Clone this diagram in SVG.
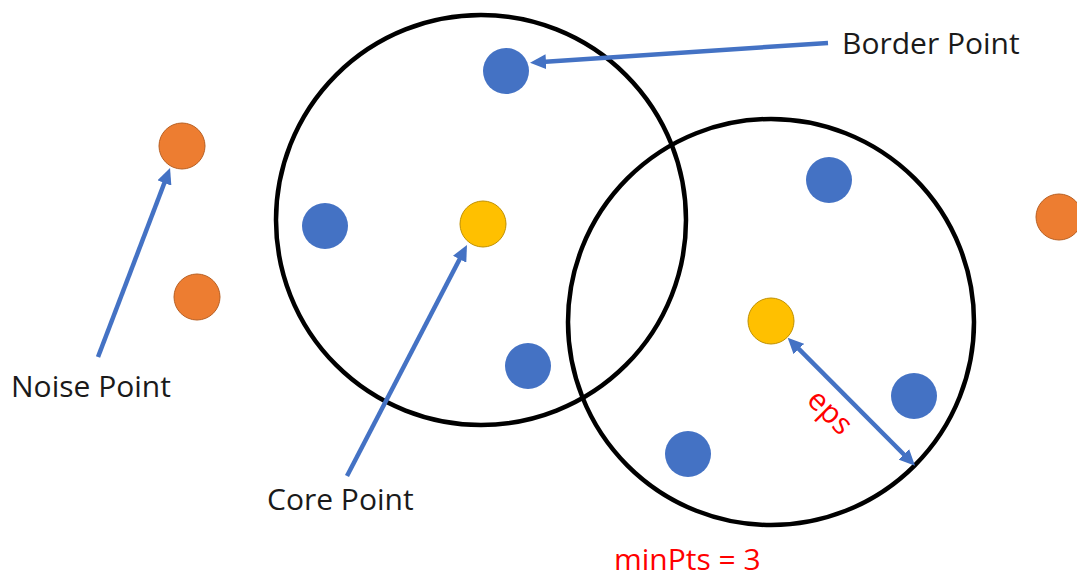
<svg xmlns="http://www.w3.org/2000/svg" width="1077" height="578" viewBox="0 0 1077 578">
  <style>
    .ring { fill: none; stroke: #000; stroke-width: 4.5; }
    .blue { fill: #4472C4; }
    .orange { fill: #ED7D31; stroke: #B85F22; stroke-width: 1; }
    .core { fill: #FFC000; stroke: #BF9000; stroke-width: 1; }
    .arrow { stroke: #4472C4; stroke-width: 4.5; fill: none; }
    .lbl { font-family: "Open Sans", "Liberation Sans", sans-serif; font-size: 30px; fill: #1a1a1a; }
    .red { font-family: "Open Sans", "Liberation Sans", sans-serif; font-size: 30px; fill: #FF0000; }
  </style>
  <defs>
    <marker id="ah" markerUnits="userSpaceOnUse" markerWidth="16" markerHeight="15" viewBox="0 0 16 15" refX="8" refY="7.5" orient="auto-start-reverse">
      <path d="M0,0 L16,7.5 L0,15 z" fill="#4472C4"/>
    </marker>
  </defs>
  <rect width="1077" height="578" fill="#fff"/>

  <g id="eps-circle-1"><circle class="ring" cx="481" cy="220" r="205"/></g>
  <g id="eps-circle-2"><circle class="ring" cx="771" cy="322" r="203"/></g>

  <g id="noise-1"><circle class="orange" cx="182" cy="146" r="23"/></g>
  <g id="noise-2"><circle class="orange" cx="197" cy="297" r="23"/></g>
  <g id="noise-3"><circle class="orange" cx="1059" cy="217" r="23"/></g>

  <g id="border-1"><circle class="blue" cx="506" cy="71" r="23"/></g>
  <g id="border-2"><circle class="blue" cx="325" cy="226" r="23"/></g>
  <g id="border-3"><circle class="blue" cx="528" cy="366" r="23"/></g>
  <g id="border-4"><circle class="blue" cx="829" cy="180" r="23"/></g>
  <g id="border-5"><circle class="blue" cx="914" cy="396" r="23"/></g>
  <g id="border-6"><circle class="blue" cx="688" cy="454" r="23"/></g>

  <g id="core-1"><circle class="core" cx="483" cy="224" r="23"/></g>
  <g id="core-2"><circle class="core" cx="771" cy="321" r="23"/></g>

  <g id="connectors">
    <line class="arrow" x1="828" y1="43" x2="538" y2="62.2" marker-end="url(#ah)"/>
    <line class="arrow" x1="347" y1="476" x2="463.3" y2="252.1" marker-end="url(#ah)"/>
    <line class="arrow" x1="98" y1="357" x2="167.2" y2="175.5" marker-end="url(#ah)"/>
    <line class="arrow" x1="793.3" y1="343.4" x2="909.4" y2="460" marker-start="url(#ah)" marker-end="url(#ah)"/>
  </g>

  <g id="label-border"><text class="lbl" x="842" y="54">Border Point</text></g>
  <g id="label-noise"><text class="lbl" x="11" y="397">Noise Point</text></g>
  <g id="label-core"><text class="lbl" x="267" y="510">Core Point</text></g>
  <g id="label-eps"><text class="red" text-anchor="middle" transform="translate(823,419) rotate(45)">eps</text></g>
  <g id="label-minpts"><text class="red" x="614" y="570">minPts = 3</text></g>
</svg>
